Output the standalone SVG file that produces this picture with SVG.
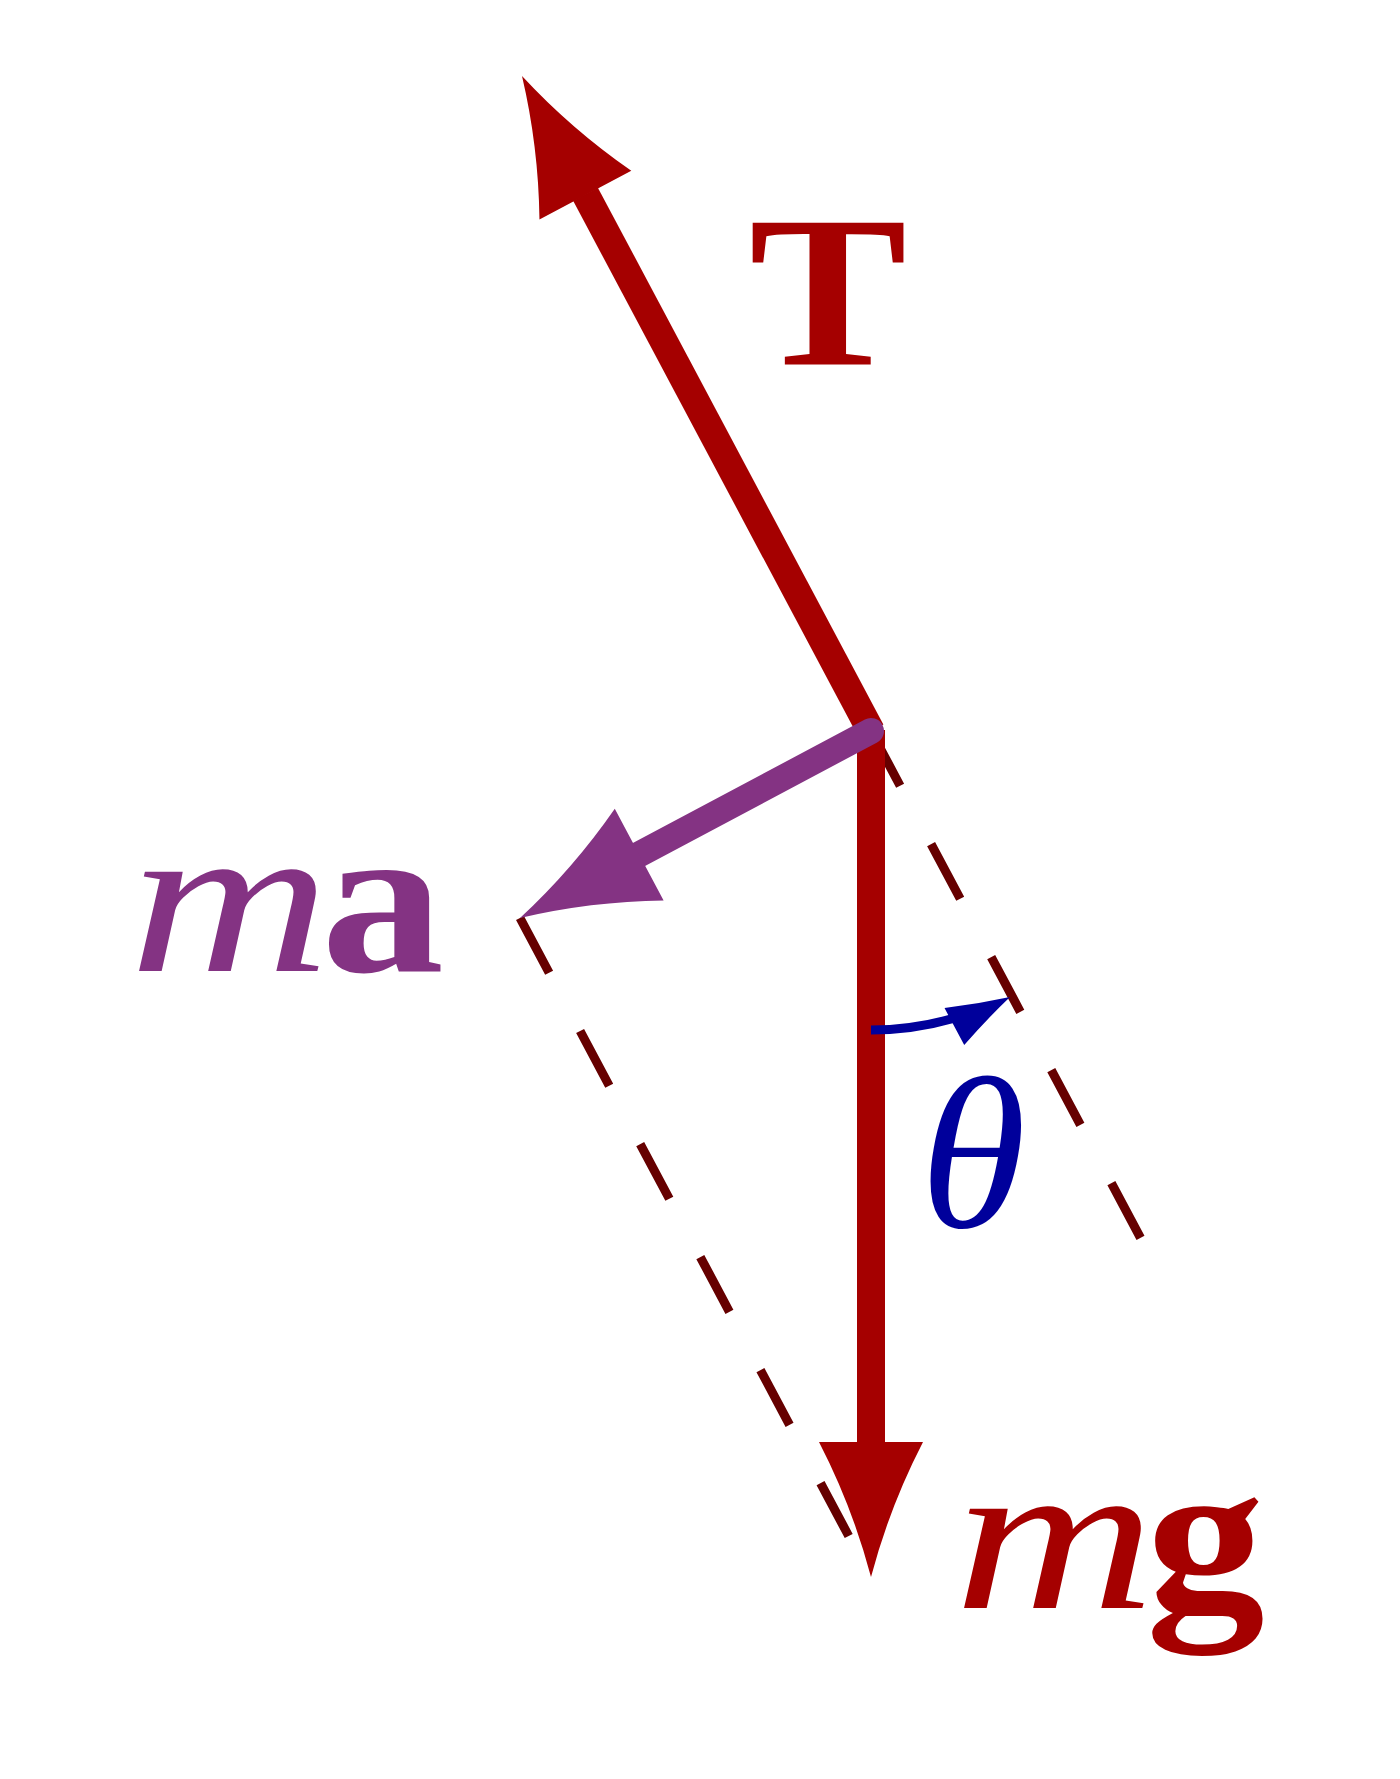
<svg xmlns="http://www.w3.org/2000/svg" xmlns:xlink="http://www.w3.org/1999/xlink" width="1400" height="1779" viewBox="0 0 1400 1779">
  <style>
    text { font-family: 'Liberation Serif', 'DejaVu Serif', serif; font-size: 216px; }
    .it { font-style: italic; }
    .bf { font-weight: bold; }
    .dash { fill: none; stroke: #660000; stroke-width: 9; stroke-dasharray: 62 66; stroke-linecap: butt; }
    .shaft-red { stroke: #A50000; stroke-width: 28; stroke-linecap: butt; fill: none; }
  </style>
  <defs>
    <path id="head" d="M0,0 Q-70,-18.5 -135,-52 L-135,52 Q-70,18.5 0,0 Z"/>
    <path id="headSmall" d="M0,0 Q-32,-9 -63,-21 L-63,21 Q-32,9 0,0 Z"/>
  </defs>
  <rect width="1400" height="1779" fill="#ffffff"/>

  <g id="connectors">
    <line class="dash" x1="871" y1="731" x2="1140.5" y2="1237.8"/>
    <line class="dash" x1="520" y1="918" x2="848.7" y2="1536"/>

    <g id="force-T">
      <line class="shaft-red" x1="871" y1="731" x2="585.5" y2="194.2"/>
      <use xlink:href="#head" href="#head" fill="#A50000" transform="translate(522,76) rotate(-118)"/>
    </g>
    <g id="force-mg">
      <line class="shaft-red" x1="871" y1="730" x2="871" y2="1443"/>
      <use xlink:href="#head" href="#head" fill="#A50000" transform="translate(871,1577) rotate(90)"/>
    </g>
    <g id="force-ma">
      <line x1="871" y1="731" x2="638" y2="855" stroke="#843383" stroke-width="26" stroke-linecap="round"/>
      <use xlink:href="#head" href="#head" fill="#843383" transform="translate(520,918) rotate(152)"/>
    </g>
    <g id="angle-arc">
      <path d="M871,1030 A299,299 0 0 0 953.4,1018.4" fill="none" stroke="#00009B" stroke-width="9"/>
      <use xlink:href="#headSmall" href="#headSmall" fill="#00009B" transform="translate(1010,997) rotate(-28)"/>
    </g>
  </g>

  <g id="label-T">
    <text class="bf" transform="translate(749,365) scale(1.097,1)" fill="#A50000">T</text>
  </g>
  <g id="label-theta">
    <text class="it" x="920" y="1227" fill="#00009B">θ</text>
  </g>
  <g id="label-ma" fill="#843383">
    <text class="it" transform="translate(129,971) scale(1.29,1)">m</text>
    <text class="bf" transform="translate(321,971) scale(1.14,1)">a</text>
  </g>
  <g id="label-mg" fill="#A50000">
    <text class="it" transform="translate(954,1608) scale(1.29,1)">m</text>
    <text class="bf" transform="translate(1146,1608) scale(1.1,1)">g</text>
  </g>
</svg>
